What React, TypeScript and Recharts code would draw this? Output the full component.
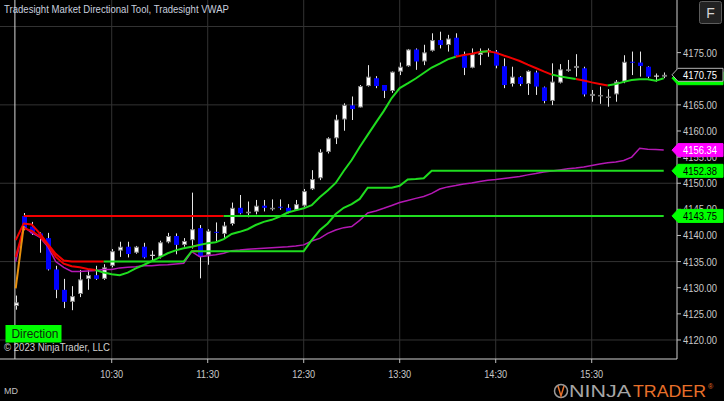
import { ComposedChart, Bar, Line, XAxis, YAxis, CartesianGrid, ReferenceLine } from 'recharts';

// 5-minute bars, index 0 = session open
const timeTicks = [12, 24, 36, 48, 60, 72];
const timeLabels = ['10:30', '11:30', '12:30', '13:30', '14:30', '15:30'];
const priceTicks = [4120, 4125, 4130, 4135, 4140, 4145, 4150, 4155, 4160, 4165, 4170, 4175];
const gridPrices = [4120, 4135, 4150, 4165, 4180];

const opens = [
  4126.5, 4143.7, 4141.7, 4140.4, 4139.5, 4133.5, 4129.6, 4127.3, 4128.8, 4131.7,
  4132.4, 4131.7, 4134.2, 4137.1, 4137.85, 4136.7, 4137.85, 4136.2, 4135.95, 4138.7,
  4139.9, 4138.2, 4139.1, 4141.4, 4136.3, 4140.7, 4140.3, 4142.2, 4145.3, 4144.25,
  4144.55, 4145.7, 4145.05, 4145.5, 4145.3, 4144.9, 4145.7, 4148.85, 4150.95, 4156.0,
  4158.6, 4162.2, 4164.9, 4164.5, 4168.6, 4170.1, 4168.8, 4167.65, 4171.35, 4172.4,
  4175.6, 4173.3, 4175.35, 4177.4, 4176.45, 4177.85, 4174.4, 4172.1, 4174.55, 4175.3,
  4175.2, 4172.4, 4169.0, 4170.3, 4169.0, 4171.2, 4168.35, 4165.75, 4169.25, 4171.55,
  4172.05, 4172.0, 4166.7, 4166.8, 4166.5, 4167.0, 4169.45, 4173.25, 4173.1, 4172.3,
  4170.5, 4170.4,
];
const highs = [
  4128.5, 4144.3, 4142.6, 4140.6, 4140.5, 4134.2, 4131.7, 4130.3, 4133.4, 4133.5,
  4134.2, 4134.5, 4137.4, 4138.8, 4138.8, 4138.0, 4138.6, 4137.1, 4139.0, 4140.5,
  4140.4, 4139.5, 4148.2, 4142.0, 4141.2, 4142.5, 4142.6, 4146.3, 4147.75, 4146.5,
  4146.8, 4146.8, 4146.9, 4146.9, 4146.0, 4146.8, 4148.9, 4152.5, 4156.5, 4158.8,
  4163.1, 4165.3, 4166.6, 4168.8, 4172.6, 4170.5, 4168.8, 4171.4, 4173.1, 4175.7,
  4175.8, 4176.5, 4178.7, 4179.0, 4178.4, 4178.7, 4175.2, 4175.8, 4175.8, 4175.8,
  4175.5, 4173.9, 4172.3, 4170.5, 4171.6, 4171.55, 4168.5, 4172.95, 4172.8, 4173.6,
  4174.7, 4172.3, 4167.85, 4168.5, 4168.0, 4169.75, 4174.5, 4175.2, 4175.2, 4172.4,
  4171.0, 4171.2,
];
const lows = [
  4125.8, 4141.0, 4140.1, 4136.7, 4133.3, 4128.0, 4126.1, 4125.7, 4128.2, 4129.6,
  4131.5, 4131.5, 4133.9, 4135.9, 4135.8, 4136.5, 4135.6, 4135.3, 4135.6, 4138.5,
  4136.4, 4137.85, 4137.5, 4131.8, 4134.4, 4138.8, 4139.5, 4141.9, 4144.05, 4143.5,
  4144.05, 4144.6, 4144.75, 4144.9, 4144.25, 4144.75, 4145.5, 4148.7, 4150.6, 4155.7,
  4157.5, 4160.05, 4162.1, 4164.5, 4168.5, 4168.2, 4166.3, 4167.3, 4170.7, 4172.3,
  4171.7, 4172.6, 4175.2, 4175.8, 4175.2, 4174.2, 4170.7, 4172.0, 4172.6, 4174.2,
  4172.0, 4168.2, 4168.5, 4168.6, 4166.9, 4166.9, 4165.3, 4164.95, 4169.1, 4171.35,
  4170.4, 4166.6, 4165.6, 4165.2, 4164.65, 4165.6, 4169.15, 4170.7, 4170.4, 4170.1,
  4169.45, 4170.1,
];
const closes = [
  4127.2, 4141.4, 4140.4, 4139.65, 4133.5, 4129.6, 4127.3, 4128.4, 4131.6, 4132.4,
  4131.7, 4133.9, 4137.0, 4137.85, 4136.45, 4137.85, 4135.8, 4136.2, 4138.7, 4139.9,
  4138.2, 4138.95, 4141.2, 4136.0, 4140.9, 4140.5, 4141.9, 4145.3, 4144.25, 4144.55,
  4145.7, 4145.3, 4145.3, 4145.3, 4144.55, 4146.0, 4148.5, 4150.8, 4156.0, 4158.6,
  4162.2, 4165.0, 4164.2, 4168.6, 4170.4, 4168.6, 4167.7, 4171.35, 4172.3, 4175.6,
  4173.3, 4175.05, 4177.4, 4176.45, 4177.7, 4174.4, 4172.1, 4174.7, 4175.05, 4175.3,
  4172.5, 4168.8, 4170.4, 4169.0, 4171.5, 4168.5, 4165.75, 4169.45, 4171.8, 4171.8,
  4172.45, 4167.0, 4167.1, 4166.9, 4166.6, 4169.45, 4173.25, 4173.1, 4172.45, 4170.4,
  4170.5, 4170.75,
];

// directional moving average (red falling / green rising)
const maValues = [
  4135.9, 4141.4, 4140.9, 4139.8, 4138.2, 4135.9, 4134.6, 4134.1, 4133.9, 4133.6,
  4133.4, 4132.9, 4132.6, 4132.4, 4132.9, 4133.7, 4134.35, 4135.1, 4135.8, 4136.6,
  4137.15, 4137.55, 4137.85, 4138.2, 4138.5, 4138.7, 4139.3, 4140.3, 4140.7, 4141.2,
  4142.0, 4142.6, 4143.0, 4143.6, 4144.4, 4144.8, 4145.2, 4145.8, 4147.3, 4148.6,
  4150.05, 4152.35, 4154.45, 4156.95, 4159.25, 4161.55, 4163.8, 4166.3, 4168.2, 4169.1,
  4170.05, 4171.1, 4172.15, 4172.9, 4173.7, 4174.2, 4174.55, 4174.8, 4175.1, 4175.25,
  4175.0, 4174.45, 4173.95, 4173.4, 4172.7, 4172.05, 4171.4, 4170.8, 4170.45, 4170.2,
  4169.95, 4169.65, 4169.3, 4169.0, 4168.7, 4169.0, 4169.4, 4169.75, 4169.9, 4169.9,
  4169.6, 4170.1,
];
const maRuns: [string, number][] = [
  ['r', 10], ['g', 12], ['r', 1], ['g', 32], ['r', 3], ['g', 1], ['r', 8], ['g', 3], ['r', 4], ['g', 7],
];

// trailing directional level
const trailValues = [
  4139.1, 4142.3, 4142.1, 4140.4, 4138.4, 4136.5, 4135.2, 4135.0, 4135.0, 4135.0,
  4135.0, 4135.0, 4135.0, 4135.0, 4135.0, 4135.0, 4135.0, 4135.0, 4135.0, 4135.0,
  4135.0, 4135.0, 4137.0, 4137.0, 4137.0, 4137.0, 4137.0, 4137.0, 4137.0, 4137.0,
  4137.0, 4137.0, 4137.0, 4137.0, 4137.0, 4137.0, 4137.0, 4139.1, 4141.0, 4142.3,
  4144.1, 4145.3, 4146.0, 4147.0, 4149.15, 4149.15, 4149.15, 4149.15, 4149.5, 4150.7,
  4150.8, 4150.95, 4152.38, 4152.38, 4152.38, 4152.38, 4152.38, 4152.38, 4152.38, 4152.38,
  4152.38, 4152.38, 4152.38, 4152.38, 4152.38, 4152.38, 4152.38, 4152.38, 4152.38, 4152.38,
  4152.38, 4152.38, 4152.38, 4152.38, 4152.38, 4152.38, 4152.38, 4152.38, 4152.38, 4152.38,
  4152.38, 4152.38,
];
const trailRuns: [string, number][] = [['r', 11], ['g', 11], ['r', 1], ['g', 58]];

// opening range level
const rangeLevel = 4143.75;
const rangeRuns: [string, number][] = [['r', 26], ['g', 55]];

const vwapValues = [
  4135.0, 4141.7, 4140.5, 4139.7, 4137.9, 4135.0, 4133.9, 4133.1, 4133.1, 4133.2,
  4133.3, 4133.5, 4133.5, 4133.8, 4133.9, 4134.0, 4134.2, 4134.2, 4134.35, 4134.4,
  4134.55, 4134.7, 4136.9, 4135.95, 4136.1, 4136.3, 4136.6, 4137.1, 4137.2, 4137.35,
  4137.45, 4137.55, 4137.65, 4137.75, 4137.85, 4138.0, 4138.2, 4138.95, 4139.45, 4140.4,
  4141.05, 4141.5, 4141.7, 4142.9, 4144.3, 4144.7, 4145.2, 4145.75, 4146.3, 4146.7,
  4147.1, 4147.45, 4148.05, 4148.9, 4149.3, 4149.55, 4149.85, 4150.05, 4150.35, 4150.55,
  4150.7, 4150.9, 4151.1, 4151.3, 4151.6, 4151.85, 4152.15, 4152.35, 4152.55, 4152.75,
  4152.9, 4153.1, 4153.4, 4153.7, 4153.9, 4154.05, 4154.35, 4155.0, 4156.7, 4156.5,
  4156.45, 4156.34,
];
const openingSpike = [4129.9, 4141.8];

const GREEN = '#1fdc1f';
const RED = '#f20000';

const expandRuns = (runs: [string, number][]) => runs.flatMap(([c, n]) => Array(n).fill(c));
const pick = (values: (number | null)[], segColors: string[], want: string) =>
  values.map((v, i) => (segColors[i - 1] === want || segColors[i] === want ? v : null));

const maSeg = expandRuns(maRuns);
const trailSeg = expandRuns(trailRuns);
const rangeSeg = expandRuns(rangeRuns);
const rangeValues = opens.map((_, i) => (i >= 1 ? rangeLevel : null));

const maG = pick(maValues, maSeg, 'g');
const maR = pick(maValues, maSeg, 'r');
const trG = pick(trailValues, trailSeg, 'g');
const trR = pick(trailValues, trailSeg, 'r');
const orG = pick(rangeValues, rangeSeg, 'g');
const orR = pick(rangeValues, rangeSeg, 'r');

const data = opens.map((o, i) => ({
  idx: i,
  range: [lows[i], highs[i]],
  open: o,
  high: highs[i],
  low: lows[i],
  close: closes[i],
  maG: maG[i],
  maR: maR[i],
  trG: trG[i],
  trR: trR[i],
  orG: orG[i],
  orR: orR[i],
  vwap: vwapValues[i],
  spike: i < openingSpike.length ? openingSpike[i] : null,
}));

// price markers on the right scale; the MA marker sits under the last-price marker
const flags = [
  { value: vwapValues[vwapValues.length - 1], fill: '#ff00ff', stroke: '#ff00ff', text: '#ffffff', showText: true },
  { value: trailValues[trailValues.length - 1], fill: '#00ff00', stroke: '#00ff00', text: '#000000', showText: true },
  { value: rangeLevel, fill: '#00ff00', stroke: '#00ff00', text: '#000000', showText: true },
  { value: maValues[maValues.length - 1], fill: '#00ff00', stroke: '#00ff00', text: '#000000', showText: false },
  { value: closes[closes.length - 1], fill: '#000000', stroke: '#b4b4b4', text: '#ffffff', showText: true },
];

const FONT = '"Liberation Sans", Arial, sans-serif';

const Candle = (props: any) => {
  const { x, y, width, height, payload } = props;
  if (x == null || y == null || height == null) return null;
  const { open, close, high, low } = payload;
  const top = Math.min(y, y + height);
  const h = Math.abs(height);
  const ratio = h / (high - low);
  const cx = Math.round(x + width / 2) + 0.5;
  const bodyTop = top + (high - Math.max(open, close)) * ratio;
  const bodyH = Math.max(1, Math.abs(open - close) * ratio);
  const up = close > open;
  return (
    <g>
      <line x1={cx} x2={cx} y1={top} y2={top + h} stroke="#e6e6e6" strokeWidth={1} />
      {open === close ? (
        <line x1={cx - 2.5} x2={cx + 2.5} y1={bodyTop} y2={bodyTop} stroke="#cfcfcf" strokeWidth={1.2} />
      ) : up ? (
        <rect x={cx - 2} y={bodyTop + 0.5} width={4} height={Math.max(bodyH - 1, 0.5)} fill="#ffffff" stroke="#7d7d7d" strokeWidth={1} />
      ) : (
        <rect x={cx - 2.5} y={bodyTop} width={5} height={bodyH} fill="#0000ff" />
      )}
    </g>
  );
};

const PriceTick = (props: any) => {
  const { x, y, payload } = props;
  const value = Number(payload.value);
  const flag = flags.find((f) => f.value === value);
  const label = value.toFixed(2);
  if (flag) {
    return (
      <g>
        <polygon
          points={`${x - 5},${y} ${x + 1},${y - 6.5} ${x + 46},${y - 6.5} ${x + 46},${y + 6.5} ${x + 1},${y + 6.5}`}
          fill={flag.fill}
          stroke={flag.stroke}
          strokeWidth={1}
        />
        {flag.showText && (
          <text x={x + 6} y={y} dy="0.36em" fontSize={11} fontFamily={FONT} fill={flag.text} textLength={34} lengthAdjust="spacingAndGlyphs">
            {label}
          </text>
        )}
      </g>
    );
  }
  // a label fully covered by a marker is not drawn
  const covered = flags.some((f) => Math.abs(f.value - value) < 1);
  return (
    <g>
      <line x1={x} x2={x + 4} y1={y} y2={y} stroke="#bdbdbd" />
      {!covered && (
        <text x={x + 6} y={y} dy="0.36em" fontSize={11} fontFamily={FONT} fill="#c8c8c8" textLength={34} lengthAdjust="spacingAndGlyphs">
          {label}
        </text>
      )}
    </g>
  );
};

const TimeTick = (props: any) => {
  const { x, y, payload } = props;
  const label = timeLabels[timeTicks.indexOf(payload.value)];
  return (
    <g>
      <line x1={x} x2={x} y1={y} y2={y + 4} stroke="#bdbdbd" />
      <text x={x} y={y + 15} dy="0.36em" textAnchor="middle" fontSize={11} fontFamily={FONT} fill="#c8c8c8" textLength={23} lengthAdjust="spacingAndGlyphs">
        {label}
      </text>
    </g>
  );
};

export default function App() {
  const line = (key: string, color: string, w: number) => (
    <Line
      key={key}
      dataKey={key}
      type="linear"
      stroke={color}
      strokeWidth={w}
      dot={false}
      activeDot={false}
      connectNulls={false}
      isAnimationActive={false}
    />
  );

  return (
    <div style={{ position: 'absolute', left: 0, top: 0, width: 724, height: 401, background: '#000' }}>
      <style>{'body{margin:0;background:#000;}'}</style>
      <ComposedChart width={724} height={401} data={data} margin={{ top: 0, right: 0, bottom: 0, left: 0 }}>
        <CartesianGrid stroke="#333333" horizontalValues={gridPrices} verticalValues={timeTicks} />
        <XAxis
          dataKey="idx"
          type="number"
          domain={[-1.9625, 82.66]}
          allowDataOverflow
          ticks={timeTicks}
          interval={0}
          height={42}
          tickSize={0}
          tickMargin={0}
          tickLine={false}
          axisLine={{ stroke: '#d0d0d0' }}
          tick={<TimeTick />}
        />
        <YAxis
          orientation="right"
          type="number"
          domain={[4116.36, 4185.07]}
          allowDataOverflow
          ticks={[...priceTicks, ...flags.map((f) => f.value)]}
          interval={0}
          width={47}
          tickSize={0}
          tickMargin={0}
          tickLine={false}
          axisLine={{ stroke: '#d0d0d0' }}
          tick={<PriceTick />}
        />
        <ReferenceLine x={-0.1} stroke="#d8d8d8" strokeWidth={1} />
        <Bar dataKey="range" barSize={5} shape={<Candle />} isAnimationActive={false} />
        {line('vwap', '#b418b4', 1.5)}
        {line('orR', RED, 2)}
        {line('orG', GREEN, 2)}
        {line('trR', RED, 2)}
        {line('trG', GREEN, 2)}
        {line('maR', RED, 2)}
        {line('maG', GREEN, 2)}
        {line('spike', '#e8900c', 2)}
      </ComposedChart>
      <svg width={724} height={401} style={{ position: 'absolute', left: 0, top: 0, pointerEvents: 'none' }}>
        <text x={4} y={9} dy="0.36em" fontSize={11} fontFamily={FONT} fill="#c8cfdf" textLength={225} lengthAdjust="spacingAndGlyphs">
          Tradesight Market Directional Tool, Tradesight VWAP
        </text>
        <rect x={699.5} y={1.5} width={22} height={22} rx={2} fill="#222222" stroke="#5c5c5c" />
        <text x={710.5} y={13} dy="0.36em" textAnchor="middle" fontSize={14} fontFamily={FONT} fill="#d6d6d6">
          F
        </text>
        <rect x={5.5} y={325} width={56} height={17.5} fill="#00ff00" />
        <text x={11.5} y={334} dy="0.36em" fontSize={12} fontFamily={FONT} fill="#0d2a0d" textLength={47} lengthAdjust="spacingAndGlyphs">
          Direction
        </text>
        <text x={4} y={347.5} dy="0.36em" fontSize={11} fontFamily={FONT} fill="#d0d0d0" textLength={106} lengthAdjust="spacingAndGlyphs">
          © 2023 NinjaTrader, LLC
        </text>
        <text x={4} y={391} dy="0.36em" fontSize={9} fontFamily={FONT} fill="#c0c0c0">
          MD
        </text>
        <circle cx={561} cy={391} r={6.5} fill="none" stroke="#9a9a9a" strokeWidth={1.5} />
        <path d="M558 386 L561 396 L564 386" fill="none" stroke="#e8702a" strokeWidth={1.5} />
        <text x={569} y={397} fontSize={16} fontFamily={FONT} fill="#a6a6a6" textLength={62} lengthAdjust="spacingAndGlyphs">
          NINJA
        </text>
        <text x={633} y={397} fontSize={16} fontFamily={FONT} fill="#e8702a" textLength={73} lengthAdjust="spacingAndGlyphs">
          TRADER
        </text>
        <text x={708} y={389} fontSize={7} fontFamily={FONT} fill="#e8702a">
          ®
        </text>
      </svg>
    </div>
  );
}
